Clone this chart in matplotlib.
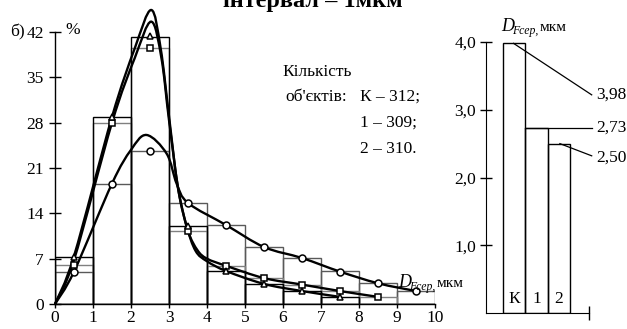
import numpy as np
import matplotlib
matplotlib.use("Agg")
import matplotlib.pyplot as plt
from matplotlib.path import Path
from matplotlib.patches import PathPatch

plt.rcParams['font.family'] = ['Liberation Serif', 'DejaVu Serif']

# ---------------- data ----------------
bin_left = [0, 1, 2, 3, 4, 5, 6, 7, 8, 9]
bin_mid = [0.5, 1.5, 2.5, 3.5, 4.5, 5.5, 6.5, 7.5, 8.5, 9.5]

# histogram shares, %
hist_K = [5.0, 18.6, 23.6, 15.6, 12.2, 8.8, 7.1, 5.1, 3.3, 2.0]      # circles
hist_1 = [6.0, 28.0, 39.6, 11.3, 5.9, 4.0, 3.0, 2.0, 1.1, 0.0]       # squares
hist_2 = [7.2, 28.9, 41.2, 12.1, 5.1, 3.1, 2.0, 1.1, 0.0, 0.0]       # triangles

pts_K_x = [0.5, 1.5, 2.5, 3.5, 4.5, 5.5, 6.5, 7.5, 8.5, 9.5]
pts_K_y = [5.0, 18.6, 23.6, 15.6, 12.2, 8.8, 7.1, 5.0, 3.2, 2.0]
pts_1_x = [0.5, 1.5, 2.5, 3.5, 4.5, 5.5, 6.5, 7.5, 8.5]
pts_1_y = [6.0, 28.0, 39.6, 11.3, 5.9, 4.0, 3.0, 2.0, 1.1]
pts_2_x = [0.5, 1.5, 2.5, 3.5, 4.5, 5.5, 6.5, 7.5]
pts_2_y = [7.2, 28.9, 41.4, 12.1, 5.1, 3.1, 2.0, 1.1]

# fitted (smoothed) curves
curve_K_x = [0.0, 0.5, 1.5, 2.0, 2.41, 2.94, 3.2, 3.5, 4.5, 5.5, 6.5, 7.5, 8.5, 9.5]
curve_K_y = [0.0, 5.0, 18.6, 23.8, 26.1, 23.2, 18.6, 15.6, 12.2, 8.8, 7.1, 5.0, 3.2, 2.0]
curve_1_x = [0.0, 0.5, 1.5, 2.1, 2.53, 2.8, 3.0, 3.25, 3.5, 3.75, 4.0, 4.5, 5.5, 6.5, 7.5, 8.5]
curve_1_y = [0.0, 6.8, 28.0, 38.0, 43.6, 38.0, 28.4, 17.5, 11.3, 8.3, 7.0, 5.9, 4.0, 3.0, 2.0, 1.1]
curve_2_x = [0.0, 0.5, 1.5, 2.1, 2.53, 2.78, 3.0, 3.22, 3.46, 3.7, 4.0, 4.5, 5.5, 6.5, 7.5]
curve_2_y = [0.0, 7.4, 28.9, 39.5, 45.4, 39.5, 29.0, 18.5, 12.1, 8.2, 6.6, 5.1, 3.1, 2.0, 1.1]

# mean diameters
groups = ['К', '1', '2']
group_pos = [1.25, 2.25, 3.25]
mean_D = [3.98, 2.73, 2.50]
mean_lbl = ['3,98', '2,73', '2,50']

counts_lines = ['К – 312;', '1 – 309;', '2 – 310.']

W, H = 627, 329
fig = plt.figure(figsize=(W / 100, H / 100), dpi=100)

def fx(px):
    return px / W

def fy(py):
    return 1 - py / H

def smooth_path(xs, ys):
    P = np.column_stack([xs, ys]).astype(float)
    n = len(P)
    verts = [P[0]]
    codes = [Path.MOVETO]
    for i in range(n - 1):
        p0 = P[i - 1] if i > 0 else P[i]
        p1 = P[i]
        p2 = P[i + 1]
        p3 = P[i + 2] if i + 2 < n else P[i + 1]
        c1 = p1 + (p2 - p0) / 6.0
        c2 = p2 - (p3 - p1) / 6.0
        verts += [c1, c2, p2]
        codes += [Path.CURVE4] * 3
    return Path(verts, codes)

FS = 12.5

# ---------------- left chart ----------------
ax = fig.add_axes([fx(55), fy(304), fx(435) - fx(55), fy(32) - fy(304)])
ax.set_xlim(0, 10)
ax.set_ylim(0, 42)
for s in ['top', 'right']:
    ax.spines[s].set_visible(False)
for s in ['left', 'bottom']:
    ax.spines[s].set_linewidth(1.0)
ax.set_xticks(range(0, 11))
ax.set_yticks(range(0, 43, 7))
ax.tick_params(axis='y', direction='inout', length=8, width=1.0, labelsize=FS, pad=4)
ax.tick_params(axis='x', direction='out', length=3, width=1.0, labelsize=FS, pad=1)

ax.bar(bin_left, hist_K, width=1, align='edge', fill=False, edgecolor='0.35', linewidth=1.0, zorder=1)
ax.bar(bin_left, hist_1, width=1, align='edge', fill=False, edgecolor='0.5', linewidth=1.0, zorder=1)
ax.bar(bin_left, hist_2, width=1, align='edge', fill=False, edgecolor='black', linewidth=1.0, zorder=1)

for cx, cy in [(curve_K_x, curve_K_y), (curve_1_x, curve_1_y), (curve_2_x, curve_2_y)]:
    ax.add_patch(PathPatch(smooth_path(cx, cy), fill=False, edgecolor='black',
                           linewidth=1.7, clip_on=False, zorder=3))

ax.plot(pts_K_x, pts_K_y, linestyle='none', marker='o', ms=5, mfc='white', mec='black', mew=1.1, zorder=4, clip_on=False)
ax.plot(pts_1_x, pts_1_y, linestyle='none', marker='s', ms=4.5, mfc='white', mec='black', mew=1.1, zorder=4, clip_on=False)
ax.plot(pts_2_x, pts_2_y, linestyle='none', marker='^', ms=5, mfc='white', mec='black', mew=1.1, zorder=4, clip_on=False)

fig.text(fx(10), fy(32), 'б)', fontsize=FS, va='center', ha='left')
fig.text(fx(65), fy(30), '%', fontsize=FS, va='center', ha='left')

fig.text(fx(282), fy(72), 'Кількість', fontsize=FS, va='center', ha='left')
fig.text(fx(285), fy(97), "об'єктів:", fontsize=FS, va='center', ha='left')
for i, t in enumerate(counts_lines):
    fig.text(fx(360), fy(97 + i * 26), t, fontsize=FS, va='center', ha='left')

# D_Fсер, мкм label
def d_label(x0, ybase):
    fig.text(fx(x0), fy(ybase), 'D', fontsize=13, style='italic', va='baseline', ha='left')
    fig.text(fx(x0 + 11), fy(ybase + 3), 'Fсер,', fontsize=8.5, style='italic', va='baseline', ha='left')
    fig.text(fx(x0 + 39), fy(ybase), 'мкм', fontsize=11, va='baseline', ha='left')

d_label(398, 287)

# title fragment at the top (cut off)
fig.text(fx(223), fy(7), 'інтервал – 1мкм', fontsize=17.5, fontweight='bold', va='baseline', ha='left')

# ---------------- right chart ----------------
ax2 = fig.add_axes([fx(486), fy(313), fx(589) - fx(486), fy(42) - fy(313)])
ax2.set_xlim(0, 4.6)
ax2.set_ylim(0, 4.0)
for s in ['top', 'right']:
    ax2.spines[s].set_visible(False)
ax2.set_yticks([1, 2, 3, 4])
ax2.set_yticklabels(['1,0', '2,0', '3,0', '4,0'])
ax2.set_xticks([4.6])
ax2.set_xticklabels([''])
ax2.tick_params(axis='y', direction='inout', length=8, width=1.0, labelsize=FS, pad=3)
ax2.tick_params(axis='x', direction='inout', length=10, width=1.0)

ax2.bar(group_pos, mean_D, width=1, fill=False, edgecolor='black', linewidth=1.0)
for gx, g in zip(group_pos, groups):
    ax2.text(gx, 0.2, g, fontsize=FS, ha='center', va='center')

# leader lines
lx_end = 4.72
ax2.plot([group_pos[0] - 0.02, lx_end], [mean_D[0], 3.22], color='black', lw=0.9, clip_on=False)
ax2.plot([group_pos[1] - 0.5, lx_end], [mean_D[1], mean_D[1]], color='black', lw=0.9, clip_on=False)
ax2.plot([group_pos[2] + 0.05, lx_end], [mean_D[2], 2.32], color='black', lw=0.9, clip_on=False)
ax2.text(lx_end + 0.22, 3.22, mean_lbl[0], fontsize=FS, ha='left', va='center', clip_on=False)
ax2.text(lx_end + 0.22, mean_D[1], mean_lbl[1], fontsize=FS, ha='left', va='center', clip_on=False)
ax2.text(lx_end + 0.22, 2.29, mean_lbl[2], fontsize=FS, ha='left', va='center', clip_on=False)

d_label(501, 31)

fig.savefig('out.png', dpi=100)
